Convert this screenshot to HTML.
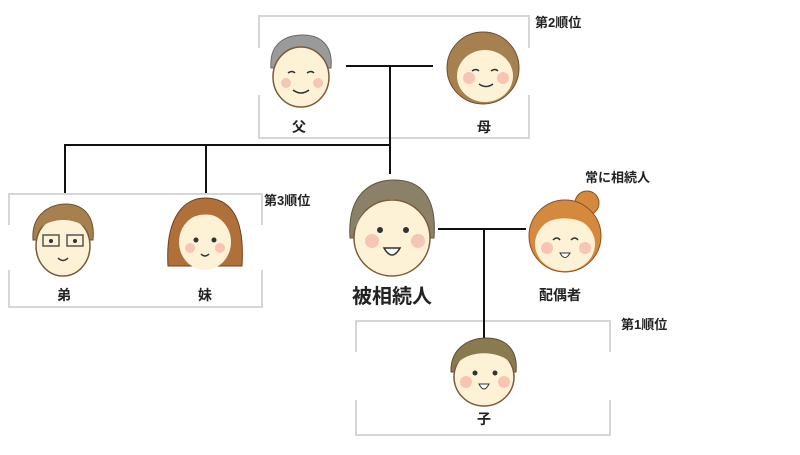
<!DOCTYPE html>
<html><head><meta charset="utf-8"><style>
body{margin:0;background:#fff;width:800px;height:450px;overflow:hidden}
svg text{font-family:"Liberation Sans","Noto Sans CJK JP",sans-serif;font-weight:bold;fill:#222}
</style></head><body>
<svg width="800" height="450" viewBox="0 0 800 450" xmlns="http://www.w3.org/2000/svg">
<g fill="none" stroke="#d6d6d6" stroke-width="2">
<path d="M259,48 V16 H529 V48 M529,95 V138 H259 V95"/>
<path d="M9,225 V194 H262 V225 M262,270 V307 H9 V270"/>
<path d="M356,352 V321 H610 V352 M610,400 V435 H356 V400"/>
</g>
<g stroke="#111" stroke-width="2" fill="none">
<path d="M346,66 H433 M390,66 V174"/>
<path d="M64,145 H390 M65,145 V193 M206,145 V193"/>
<path d="M438,229 H526 M484,229 V340"/>
</g>
<defs>
<g id="face">
<circle r="1" fill="#fdf1d6" stroke="#7a5a3a" stroke-width="0.04"/>
</g>
</defs>
<!-- father -->
<g transform="translate(301,73)">
<path d="M-30,-5 C-32,-30 -15,-38 2,-38 C22,-38 32,-25 30,-5 Z" fill="#9a9a9a" stroke="#6b6b6b"/>
<ellipse cx="0" cy="4" rx="28" ry="30" fill="#fdf1d6" stroke="#7a5a3a" stroke-width="1.5"/>
<circle cx="-15" cy="10" r="5" fill="#f8c4b4"/><circle cx="17" cy="10" r="5" fill="#f8c4b4"/>
<path d="M-13,0 q4,-3 7,0 M6,0 q4,-3 7,0 M-8,17 q8,6 16,0" stroke="#333" stroke-width="1.5" fill="none"/>
</g>
<!-- mother -->
<g transform="translate(483,68)">
<circle r="36" fill="#a6804e" stroke="#6e4e2a"/>
<ellipse cx="2" cy="8" rx="28" ry="26" fill="#fdf1d6"/>
<path d="M-26,0 C-20,-25 10,-28 30,-5 L30,-15 C15,-35 -20,-35 -28,-5Z" fill="#a6804e"/>
<circle cx="-14" cy="10" r="6" fill="#f8c4b4"/><circle cx="20" cy="10" r="6" fill="#f8c4b4"/>
<path d="M-11,3 q4,-3 7,0 M8,3 q4,-3 7,0 M-4,16 q7,5 14,0" stroke="#333" stroke-width="1.5" fill="none"/>
</g>
<!-- deceased -->
<g transform="translate(392,228)">
<path d="M-42,10 C-45,-35 -20,-48 2,-48 C30,-48 45,-30 42,10 Z" fill="#8a8168" stroke="#5e5644"/>
<ellipse cx="0" cy="10" rx="38" ry="38" fill="#fdf1d6" stroke="#7a5a3a" stroke-width="1.5"/>
<path d="M-36,0 C-30,-25 -10,-30 0,-28 C20,-32 36,-20 38,0 L40,-12 C30,-45 -30,-45 -40,-10Z" fill="#8a8168"/>
<circle cx="-20" cy="13" r="7" fill="#f8c4b4"/><circle cx="26" cy="13" r="7" fill="#f8c4b4"/>
<circle cx="-12" cy="2" r="3" fill="#333"/><circle cx="14" cy="2" r="3" fill="#333"/>
<path d="M-8,20 q8,14 16,0 Z" fill="#fff" stroke="#333" stroke-width="1.5"/>
</g>
<!-- spouse -->
<g transform="translate(565,236)">
<circle cx="22" cy="-33" r="12" fill="#d4893e" stroke="#8a5020"/>
<circle r="36" fill="#d4893e" stroke="#8a5020"/>
<ellipse cx="0" cy="8" rx="30" ry="27" fill="#fdf1d6"/>
<path d="M-30,0 C-25,-22 20,-25 32,0 L34,-10 C20,-38 -25,-38 -34,-8Z" fill="#d4893e"/>
<circle cx="-18" cy="12" r="6" fill="#f8c4b4"/><circle cx="20" cy="12" r="6" fill="#f8c4b4"/>
<path d="M-12,4 q4,-4 7,0 M6,4 q4,-4 7,0" stroke="#333" stroke-width="1.5" fill="none"/>
<path d="M-5,17 q5,9 10,0 Z" fill="#fff" stroke="#333"/>
</g>
<!-- brother -->
<g transform="translate(63,240)">
<path d="M-30,0 C-32,-28 -10,-36 2,-36 C24,-36 32,-20 30,0 Z" fill="#a6804e" stroke="#6e4e2a"/>
<ellipse cx="0" cy="6" rx="27" ry="30" fill="#fdf1d6" stroke="#7a5a3a" stroke-width="1.5"/>
<path d="M-27,-5 C-20,-25 20,-25 28,-5 L28,-15 C15,-32 -20,-32 -28,-12Z" fill="#a6804e"/>
<rect x="-20" y="-5" width="16" height="11" fill="none" stroke="#555" stroke-width="1.5"/><rect x="4" y="-5" width="16" height="11" fill="none" stroke="#555" stroke-width="1.5"/>
<circle cx="-12" cy="1" r="2" fill="#333"/><circle cx="12" cy="1" r="2" fill="#333"/>
<path d="M-5,18 q5,5 10,0" stroke="#333" stroke-width="1.5" fill="none"/>
</g>
<!-- sister -->
<g transform="translate(205,236)">
<path d="M-37,30 C-40,-20 -20,-38 0,-38 C25,-38 40,-20 37,30 Z" fill="#b0703a" stroke="#6e4020"/>
<ellipse cx="0" cy="6" rx="26" ry="28" fill="#fdf1d6"/>
<path d="M-27,-2 C-20,-28 22,-28 28,-2 L28,-18 C10,-36 -20,-36 -28,-15Z" fill="#b0703a"/>
<circle cx="-15" cy="12" r="5" fill="#f8c4b4"/><circle cx="15" cy="12" r="5" fill="#f8c4b4"/>
<circle cx="-9" cy="4" r="2.5" fill="#333"/><circle cx="9" cy="4" r="2.5" fill="#333"/>
<path d="M-4,18 q4,4 8,0" stroke="#333" stroke-width="1.5" fill="none"/>
</g>
<!-- child -->
<g transform="translate(484,372)">
<path d="M-33,0 C-34,-26 -12,-34 2,-34 C24,-34 34,-20 32,0 Z" fill="#8a7a50" stroke="#5e5030"/>
<ellipse cx="0" cy="5" rx="30" ry="29" fill="#fdf1d6" stroke="#7a5a3a" stroke-width="1.5"/>
<path d="M-30,-3 C-22,-24 22,-24 31,-3 L31,-14 C15,-32 -20,-32 -31,-12Z" fill="#8a7a50"/>
<circle cx="-18" cy="10" r="6" fill="#f8c4b4"/><circle cx="20" cy="10" r="6" fill="#f8c4b4"/>
<circle cx="-9" cy="1" r="2.5" fill="#333"/><circle cx="11" cy="1" r="2.5" fill="#333"/>
<path d="M-5,12 q5,10 10,0 Z" fill="#fff" stroke="#333"/>
</g>
<g font-size="14" text-anchor="middle">
<text x="299" y="132">父</text>
<text x="484" y="132">母</text>
<text x="64" y="300">弟</text>
<text x="205" y="300">妹</text>
<text x="560" y="300">配偶者</text>
<text x="484" y="424">子</text>
<text x="392" y="303" font-size="20">被相続人</text>
</g>
<g font-size="13">
<text x="535" y="27">第2順位</text>
<text x="264" y="205">第3順位</text>
<text x="585" y="182">常に相続人</text>
<text x="621" y="329">第1順位</text>
</g>
</svg>
</body></html>
